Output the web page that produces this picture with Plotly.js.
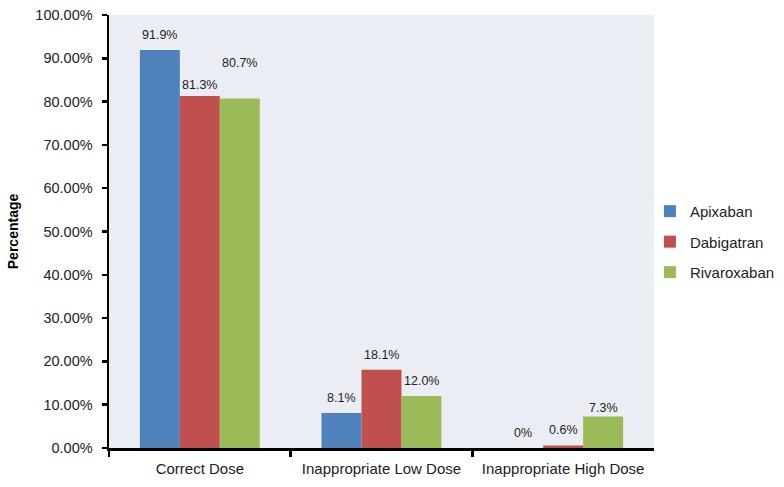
<!DOCTYPE html>
<html>
<head>
<meta charset="utf-8">
<script src="https://cdn.plot.ly/plotly-3.0.1.min.js"></script>
<style>html,body{margin:0;padding:0;background:#fff;}#chart{width:784px;height:487px;}</style>
</head>
<body>
<div id="chart"></div>
<script>
// ---- data ----
var categories = ["Correct Dose", "Inappropriate Low Dose", "Inappropriate High Dose"];
var seriesNames = ["Apixaban", "Dabigatran", "Rivaroxaban"];
var apixaban = [0.919, 0.081, 0.0];
var dabigatran = [0.813, 0.181, 0.006];
var rivaroxaban = [0.807, 0.120, 0.073];
var apixabanLabels = ["91.9%", "8.1%", "0%"];
var dabigatranLabels = ["81.3%", "18.1%", "0.6%"];
var rivaroxabanLabels = ["80.7%", "12.0%", "7.3%"];

// ---- styling ----
var colors = ["#4f81bd", "#c0504d", "#9bbb59"];
var seriesValues = [apixaban, dabigatran, rivaroxaban];
var seriesLabels = [apixabanLabels, dabigatranLabels, rivaroxabanLabels];
var barOffsetPx = [-40, 0, 40];
// vertical gap (px) between bar top and label centre, per series per category
var labelGap = [[15, 15, 15], [11, 15, 15], [36, 15, 8]];
var font = "Liberation Sans, Arial, sans-serif";

var traces = seriesNames.map(function (name, i) {
  return {
    type: "bar",
    name: name,
    x: categories,
    y: seriesValues[i],
    marker: {color: colors[i]},
    legendgroup: "g" + i,
    hoverinfo: "skip"
  };
});

var annotations = [];
seriesNames.forEach(function (name, i) {
  categories.forEach(function (c, j) {
    annotations.push({
      x: c, y: seriesValues[i][j], xref: "x", yref: "y",
      text: seriesLabels[i][j], showarrow: false,
      xshift: barOffsetPx[i], yshift: labelGap[i][j],
      xanchor: "center", yanchor: "middle",
      font: {family: font, size: 12.5, color: "#222"}
    });
  });
});

var layout = {
  width: 784, height: 487,
  margin: {l: 109, r: 10, t: 15, b: 39, pad: 0, autoexpand: false},
  paper_bgcolor: "#ffffff",
  plot_bgcolor: "#eaeef4",
  barmode: "group",
  bargap: 0.34,
  bargroupgap: 0,
  showlegend: true,
  legend: {
    xref: "container", x: 0.829, y: 0.476, xanchor: "left", yanchor: "middle",
    font: {family: font, size: 15, color: "#222"},
    traceorder: "grouped", tracegroupgap: 8,
    itemwidth: 30,
    bgcolor: "rgba(0,0,0,0)"
  },
  xaxis: {
    type: "category",
    domain: [0, 0.8195],
    showline: true, linecolor: "#000", linewidth: 2.5,
    ticks: "outside", tickson: "boundaries", ticklen: 6, tickwidth: 2.5, tickcolor: "#000",
    tickfont: {family: font, size: 15, color: "#222"},
    ticklabelstandoff: 5,
    showgrid: false, zeroline: false, fixedrange: true
  },
  yaxis: {
    range: [0, 1], dtick: 0.1, tick0: 0, tickformat: ".2%",
    showline: true, linecolor: "#000", linewidth: 2.5,
    ticks: "outside", ticklen: 5, tickwidth: 2.5, tickcolor: "#000",
    tickfont: {family: font, size: 14.5, color: "#222"},
    ticklabelstandoff: 6,
    showgrid: false, zeroline: false,
    title: {text: "<b>Percentage</b>", font: {family: font, size: 14, color: "#000"}, standoff: 14}
  },
  annotations: annotations
};

Plotly.newPlot("chart", traces, layout, {displayModeBar: false, staticPlot: true});
</script>
</body>
</html>
